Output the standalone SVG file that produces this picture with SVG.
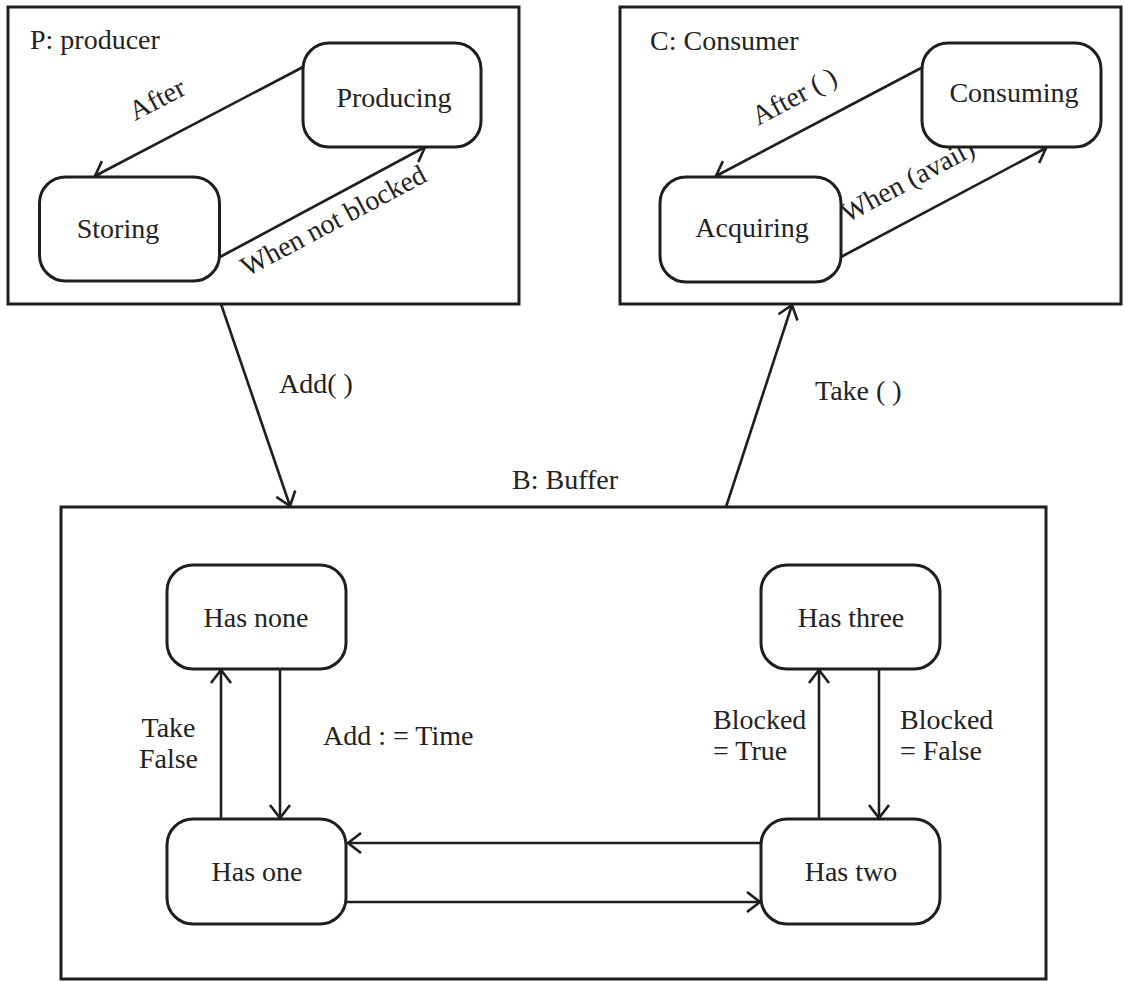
<svg xmlns="http://www.w3.org/2000/svg" width="1124" height="981" viewBox="0 0 1124 981">
<defs>
<style>
.frame{fill:none;stroke:#1e1e1e;stroke-width:3}
.node rect{fill:#fff;stroke:#1e1e1e;stroke-width:3}
.t{font-family:"Liberation Serif","Times New Roman",serif;font-size:28px;fill:#222}
.c{text-anchor:middle}
.edge{fill:none;stroke:#1e1e1e;stroke-width:2.6;marker-end:url(#arr)}
</style>
<marker id="arr" markerUnits="userSpaceOnUse" markerWidth="18" markerHeight="24" refX="14" refY="11" orient="auto">
<path d="M1,1 L14,11 L1,21" fill="none" stroke="#1e1e1e" stroke-width="2.6" stroke-linejoin="miter"/>
</marker>
</defs>
<rect width="1124" height="981" fill="#fff"/>

<g id="producer">
<rect class="frame" x="8" y="7" width="511" height="297"/>
<text class="t" x="30" y="49">P: producer</text>
</g>
<g id="consumer">
<rect class="frame" x="620" y="7" width="501" height="297"/>
<text class="t" x="650" y="50">C: Consumer</text>
</g>
<g id="buffer">
<rect class="frame" x="61" y="507" width="985" height="472"/>
<text class="t" x="512" y="489">B: Buffer</text>
</g>

<g id="connectors">
<line class="edge" x1="303" y1="67" x2="95" y2="176"/>
<line class="edge" x1="220" y1="257" x2="425" y2="147"/>
<line class="edge" x1="923" y1="67" x2="716" y2="176"/>
<line class="edge" x1="841" y1="257" x2="1046" y2="148"/>
<line class="edge" x1="221" y1="304" x2="290" y2="506"/>
<line class="edge" x1="726" y1="507" x2="792" y2="305"/>
<line class="edge" x1="221" y1="819" x2="221" y2="670"/>
<line class="edge" x1="280" y1="669" x2="280" y2="818"/>
<line class="edge" x1="819" y1="819" x2="819" y2="670"/>
<line class="edge" x1="879" y1="669" x2="879" y2="818"/>
<line class="edge" x1="761" y1="843" x2="348" y2="843"/>
<line class="edge" x1="347" y1="902" x2="760" y2="902"/>
<text class="t" x="135" y="121" transform="rotate(-27.5 135 121)">After</text>
<text class="t" x="247" y="277" transform="rotate(-28 247 277)">When not blocked</text>
<text class="t" x="758" y="126" transform="rotate(-28 758 126)">After ( )</text>
<text class="t" x="847" y="223" transform="rotate(-28 847 223)">When (avail)</text>
<text class="t" x="279" y="393">Add( )</text>
<text class="t" x="815" y="400">Take ( )</text>
<text class="t c" x="168.5" y="737">Take</text>
<text class="t c" x="168.5" y="768">False</text>
<text class="t" x="323" y="745">Add : = Time</text>
<text class="t" x="713" y="729">Blocked</text>
<text class="t" x="713" y="760">= True</text>
<text class="t" x="900" y="729">Blocked</text>
<text class="t" x="900" y="760">= False</text>
</g>

<g id="producing" class="node">
<rect x="303" y="43" width="178" height="104" rx="26"/>
<text class="t c" x="394" y="107">Producing</text>
</g>
<g id="storing" class="node">
<rect x="39.5" y="177" width="180" height="104" rx="26"/>
<text class="t c" x="118" y="238">Storing</text>
</g>
<g id="consuming" class="node">
<rect x="922" y="43" width="179" height="104" rx="26"/>
<text class="t c" x="1014" y="102">Consuming</text>
</g>
<g id="acquiring" class="node">
<rect x="660" y="177" width="181" height="105" rx="26"/>
<text class="t c" x="752" y="237">Acquiring</text>
</g>
<g id="has-none" class="node">
<rect x="167" y="565" width="179" height="104" rx="26"/>
<text class="t c" x="256" y="627">Has none</text>
</g>
<g id="has-one" class="node">
<rect x="167" y="819" width="179" height="105" rx="26"/>
<text class="t c" x="257" y="881">Has one</text>
</g>
<g id="has-three" class="node">
<rect x="761" y="565" width="179" height="104" rx="26"/>
<text class="t c" x="851" y="627">Has three</text>
</g>
<g id="has-two" class="node">
<rect x="761" y="819" width="179" height="105" rx="26"/>
<text class="t c" x="851" y="881">Has two</text>
</g>
</svg>
